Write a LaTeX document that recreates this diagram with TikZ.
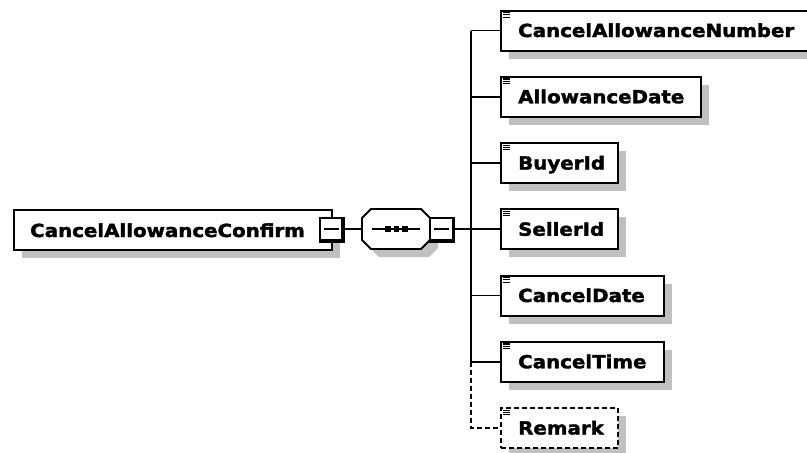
\documentclass[tikz,border=0pt]{standalone}
\usepackage{fontspec}
\usetikzlibrary{shadows}
\newfontfamily\dfont[FakeStretch=1.1, BoldFeatures={FakeBold=2}]{DejaVu Sans}
\definecolor{shgray}{RGB}{192,192,192}
\begin{document}
\begin{tikzpicture}[x=1pt,y=-1pt,
  elbox/.style={draw, line width=2pt, fill=white, rectangle, inner sep=0pt,
    minimum height=40pt, anchor=north west,
    drop shadow={shadow xshift=8pt, shadow yshift=-8pt, fill=shgray, opacity=1, draw=none}},
  optbox/.style={elbox, dash pattern=on 5pt off 3pt},
  lbl/.style={font=\dfont\bfseries\fontsize{18}{20}\selectfont, inner sep=0pt, anchor=base west},
  conn/.style={line width=1.6pt},
  minusbox/.style={draw, fill=white, line width=1.5pt, minimum size=22pt, inner sep=0pt, rectangle},
  thickedge/.style={line width=3.2pt, line cap=rect},
  icon/.style={line width=1.1pt}
]
\useasboundingbox (0,0) rectangle (807,453);
\clip (0,0) rectangle (807,453);

% root element
\node[elbox, minimum width=318pt] (root) at (13,209) {};
\node[lbl] (rootlbl) at ([shift={(17,28)}]root.north west) {CancelAllowanceConfirm};

% sequence compositor (octagon)
\node[minimum width=68pt, minimum height=40pt, inner sep=0pt] (seq) at (396,229) {};
\fill[shgray] (379,217) -- (429,217) -- (438,226) -- (438,248) -- (429,257) -- (379,257) -- (370,248) -- (370,226) -- cycle;
\draw[line width=1.8pt, fill=white] (371,209) -- (421,209) -- (430,218) -- (430,240) -- (421,249) -- (371,249) -- (362,240) -- (362,218) -- cycle;
\draw[line width=1.6pt] (372,229) -- (420,229);
\foreach \sx in {388,396.5,405} {\fill (\sx-2.8,226.2) rectangle (\sx+2.8,231.8);}

% minus boxes
\node[minusbox] (m1) at (331,229) {};
\draw[thickedge] ([xshift=0.6pt,yshift=-1pt]m1.north east) -- ([xshift=0.6pt,yshift=-0.6pt]m1.south east) -- ([xshift=1pt,yshift=-0.6pt]m1.south west);
\draw[line width=1.5pt] ([xshift=-7.5pt]m1.center) -- ([xshift=7.5pt]m1.center);

\node[minusbox] (m2) at (441.5,229) {};
\draw[thickedge] ([xshift=0.6pt,yshift=-1pt]m2.north east) -- ([xshift=0.6pt,yshift=-0.6pt]m2.south east) -- ([xshift=1pt,yshift=-0.6pt]m2.south west);
\draw[line width=1.5pt] ([xshift=-7.5pt]m2.center) -- ([xshift=7.5pt]m2.center);

\draw[conn] (m1.east) -- (seq.west);

% children
\node[elbox, minimum width=312pt] (c1) at (500,9.5) {};
\node[elbox, minimum width=200pt] (c2) at (500,75.75) {};
\node[elbox, minimum width=117pt] (c3) at (500,142) {};
\node[elbox, minimum width=117pt] (c4) at (500,208.25) {};
\node[elbox, minimum width=163pt] (c5) at (500,274.5) {};
\node[elbox, minimum width=163pt] (c6) at (500,340.75) {};
\node[optbox, minimum width=117pt] (c7) at (500,407) {};

\node[lbl] (l1) at ([shift={(18,27.5)}]c1.north west) {CancelAllowanceNumber};
\node[lbl] (l2) at ([shift={(18,27.5)}]c2.north west) {AllowanceDate};
\node[lbl] (l3) at ([shift={(18,27.5)}]c3.north west) {BuyerId};
\node[lbl] (l4) at ([shift={(18,27.5)}]c4.north west) {SellerId};
\node[lbl] (l5) at ([shift={(18,27.5)}]c5.north west) {CancelDate};
\node[lbl] (l6) at ([shift={(18,27.5)}]c6.north west) {CancelTime};
\node[lbl] (l7) at ([shift={(18,27.5)}]c7.north west) {Remark};

\foreach \c in {c1,c2,c3,c4,c5,c6,c7} {
  \foreach \dy in {3.2,5.4,7.6} {
    \draw[icon] ([shift={(3,\dy)}]\c.north west) -- ++(7,0);
  }
}

% connectors
\coordinate (bus) at (471,229);
\draw[conn] (m2.east) -- (bus);
\draw[conn] (c1.west -| bus) -- (c6.west -| bus);
\foreach \c in {c1,c2,c3,c4,c5,c6} {
  \draw[conn] (\c.west -| bus) -- (\c.west);
}
\draw[conn, dash pattern=on 5pt off 3pt] (c6.west -| bus) -- (c7.west -| bus) -- (c7.west);
\end{tikzpicture}
\end{document}
